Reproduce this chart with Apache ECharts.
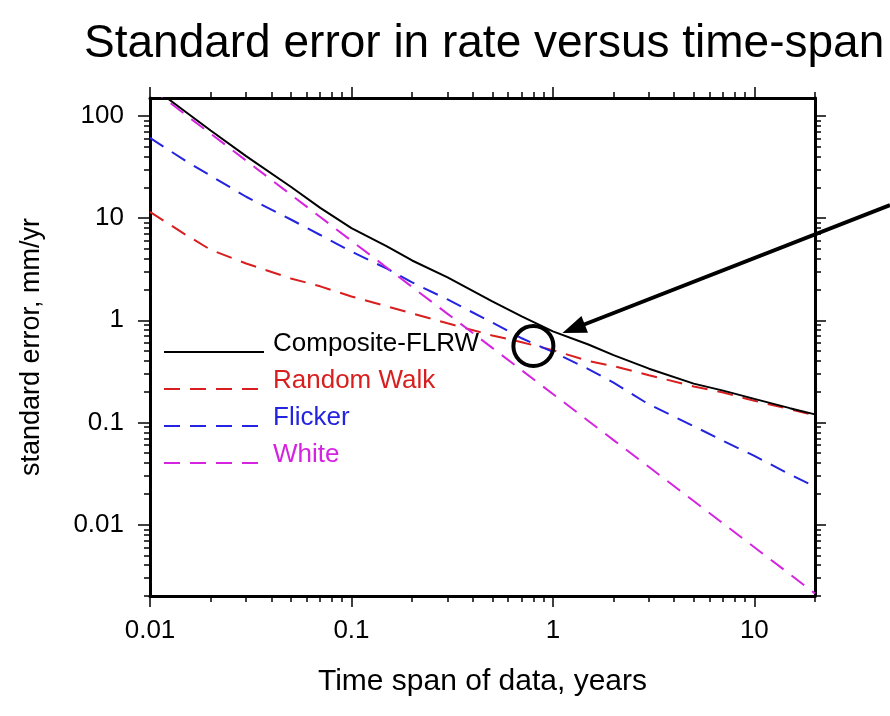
<!DOCTYPE html>
<html><head><meta charset="utf-8">
<script src="https://cdn.jsdelivr.net/npm/echarts@6/dist/echarts.min.js"></script>
<style>html,body{margin:0;padding:0;background:#fff}#main{width:890px;height:716px}</style>
</head><body><div id="main"></div>
<script>
// ---- data ----
const spans      = [0.01, 0.015, 0.02, 0.03, 0.05, 0.07, 0.1, 0.15, 0.2, 0.3, 0.5, 0.7, 1, 1.5, 2, 3, 5, 7, 10, 15, 20];
const composite  = [200, 110, 72, 40.5, 20.3, 12.6, 8.0, 5.3, 3.85, 2.63, 1.53, 1.09, 0.78, 0.58, 0.456, 0.336, 0.24, 0.205, 0.17, 0.138, 0.12];
const randomWalk = [11.5, 6.9, 4.9, 3.6, 2.57, 2.15, 1.71, 1.37, 1.17, 0.935, 0.71, 0.61, 0.51, 0.40, 0.356, 0.29, 0.225, 0.196, 0.163, 0.135, 0.117];
const flicker    = [61, 36.4, 26, 16.2, 9.7, 6.84, 4.7, 3.2, 2.35, 1.6, 0.95, 0.667, 0.49, 0.333, 0.245, 0.15, 0.092, 0.066, 0.047, 0.031, 0.0235];
const white      = [190, 103, 67.2, 36.6, 17.0, 10.26, 6.0, 3.27, 2.12, 1.156, 0.537, 0.324, 0.19, 0.1034, 0.0672, 0.0366, 0.017, 0.01026, 0.006, 0.00327, 0.00212];
const seriesNames = ['Composite-FLRW', 'Random Walk', 'Flicker', 'White'];
const xTickValues = [0.01, 0.1, 1, 10];
const xTickLabels = ['0.01', '0.1', '1', '10'];
const yTickValues = [0.01, 0.1, 1, 10, 100];
const yTickLabels = ['0.01', '0.1', '1', '10', '100'];
const xRange = [0.01, 20];
const yRange = [0.002, 150];
const circleAt = [0.8, 0.56];

// ---- styling ----
const FONT = '"Liberation Sans", Arial, Helvetica, sans-serif';
const colors = ['#000000', '#d81e1e', '#2323e0', '#d424e0'];
const DASH = [16, 10];

function pairs(vals) { return spans.map((t, i) => [t, vals[i]]); }
function minors(lo, hi) {
  const out = [];
  for (let e = -4; e <= 3; e++) for (let m = 2; m <= 9; m++) {
    const v = +(m * Math.pow(10, e)).toPrecision(6);
    if (v >= lo * 0.9999 && v <= hi * 1.0001) out.push(v);
  }
  return out;
}
function labelFor(values, labels) {
  return function (v) {
    for (let i = 0; i < values.length; i++) if (Math.abs(Math.log10(v) - Math.log10(values[i])) < 1e-6) return labels[i];
    return '';
  };
}
function axis(kind, position, ticks, tickLen, withLine, extra) {
  const r = kind === 'x' ? xRange : yRange;
  return Object.assign({
    type: 'log', logBase: 10, min: r[0], max: r[1], position: position,
    splitLine: { show: false }, minorTick: { show: false },
    axisLine: { show: withLine, onZero: false, lineStyle: { color: '#000', width: 3 } },
    axisTick: { show: true, inside: false, length: tickLen, customValues: ticks, lineStyle: { color: '#000', width: 1.5 } },
    axisLabel: { show: false },
    axisPointer: { show: false }, silent: true
  }, extra || {});
}

const chart = echarts.init(document.getElementById('main'), null, { renderer: 'canvas' });
const option = {
  backgroundColor: '#fff',
  animation: false,
  title: {
    text: 'Standard error in rate versus time-span', left: 79, top: 16,
    textStyle: { fontFamily: FONT, fontSize: 46, fontWeight: 'normal', color: '#000' }
  },
  grid: { left: 150, right: 75, top: 98, bottom: 120, containLabel: false },
  legend: {
    orient: 'vertical', left: 158, top: 326, itemWidth: 100, itemHeight: 14, itemGap: -5,
    selectedMode: false,
    itemStyle: { opacity: 0, color: 'rgba(0,0,0,0)', borderWidth: 0 },
    data: seriesNames.map((n, i) => ({ name: n, textStyle: { color: colors[i] } })),
    formatter: function (name) { return '{t|' + name + '}{s| }'; },
    textStyle: {
      fontFamily: FONT, fontSize: 26,
      rich: {
        t: { fontFamily: FONT, fontSize: 26, lineHeight: 26, height: 26, verticalAlign: 'top', padding: [0, 0, 0, 4] },
        s: { fontFamily: FONT, fontSize: 26, height: 42, lineHeight: 42, width: 1 }
      }
    }
  },
  xAxis: [
    axis('x', 'bottom', xTickValues, 11, true, {
      axisLabel: { show: true, customValues: xTickValues, formatter: labelFor(xTickValues, xTickLabels), margin: 22,
        fontFamily: FONT, fontSize: 26, color: '#000' },
      name: 'Time span of data, years', nameLocation: 'middle', nameGap: 71,
      nameTextStyle: { fontFamily: FONT, fontSize: 30, color: '#000' }
    }),
    axis('x', 'bottom', minors(xRange[0], xRange[1]), 6, false),
    axis('x', 'top', xTickValues, 11, true),
    axis('x', 'top', minors(xRange[0], xRange[1]), 6, false)
  ],
  yAxis: [
    axis('y', 'left', yTickValues, 12, true, {
      axisLabel: { show: true, customValues: yTickValues, formatter: labelFor(yTickValues, yTickLabels), margin: 26,
        fontFamily: FONT, fontSize: 26, color: '#000' },
      name: 'standard error, mm/yr', nameLocation: 'middle', nameGap: 105,
      nameTextStyle: { fontFamily: FONT, fontSize: 27, color: '#000' }
    }),
    axis('y', 'left', minors(yRange[0], yRange[1]), 6, false),
    axis('y', 'right', yTickValues, 11, true),
    axis('y', 'right', minors(yRange[0], yRange[1]), 6, false)
  ],
  series: [
    { name: seriesNames[1], type: 'line', data: pairs(randomWalk), symbol: 'none', showSymbol: false, clip: true,
      lineStyle: { color: colors[1], width: 2, type: DASH }, itemStyle: { color: colors[1] } },
    { name: seriesNames[2], type: 'line', data: pairs(flicker), symbol: 'none', showSymbol: false, clip: true,
      lineStyle: { color: colors[2], width: 2, type: DASH }, itemStyle: { color: colors[2] } },
    { name: seriesNames[3], type: 'line', data: pairs(white), symbol: 'none', showSymbol: false, clip: true,
      lineStyle: { color: colors[3], width: 2, type: DASH }, itemStyle: { color: colors[3] } },
    { name: seriesNames[0], type: 'line', data: pairs(composite), symbol: 'none', showSymbol: false, clip: true,
      lineStyle: { color: colors[0], width: 2 }, itemStyle: { color: colors[0] }, z: 3 }
  ]
};
chart.setOption(option);

// annotation: circle around the crossing, arrow pointing to it
const c = chart.convertToPixel({ xAxisIndex: 0, yAxisIndex: 0 }, circleAt);
const tip = [c[0] + 29, c[1] - 13];
const tail = [890, 205];
const dx = tip[0] - tail[0], dy = tip[1] - tail[1];
const L = Math.sqrt(dx * dx + dy * dy), ux = dx / L, uy = dy / L;
const headLen = 24, headW = 9;
const base = [tip[0] - ux * headLen, tip[1] - uy * headLen];
chart.setOption({
  graphic: [
    { type: 'circle', shape: { cx: c[0], cy: c[1], r: 20 }, style: { fill: 'none', stroke: '#000', lineWidth: 4 }, z: 100 },
    { type: 'line', shape: { x1: tail[0], y1: tail[1], x2: base[0] + ux * 2, y2: base[1] + uy * 2 }, style: { stroke: '#000', lineWidth: 4 }, z: 100 },
    { type: 'polygon', shape: { points: [tip, [base[0] - uy * headW, base[1] + ux * headW], [base[0] + uy * headW, base[1] - ux * headW]] },
      style: { fill: '#000' }, z: 100 }
  ]
});
</script>
</body></html>
